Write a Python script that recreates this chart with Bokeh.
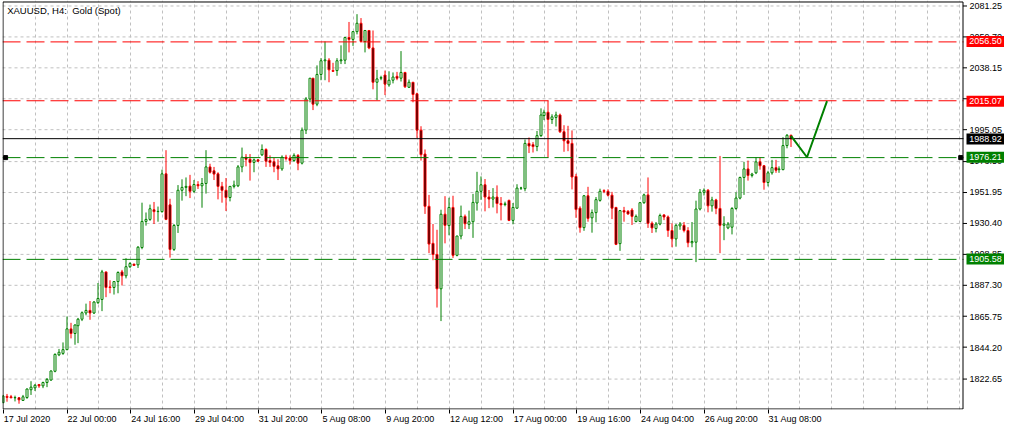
import math
from bokeh.plotting import figure
from bokeh.models import (Range1d, FixedTicker, Label, ColumnDataSource, LinearAxis)
from bokeh.core.properties import value
from bokeh.embed import file_html
from bokeh.resources import INLINE

# ---- data (XAUUSD H4) ----
opens = [1806.0, 1810.4, 1810.1, 1809.4, 1809.4, 1807.6, 1809.6, 1815.0, 1816.3, 1818.6,
         1817.7, 1820.0, 1821.7, 1827.8, 1839.2, 1840.2, 1842.8, 1857.2, 1854.0, 1859.4,
         1863.9, 1868.2, 1870.0, 1868.2, 1875.4, 1877.6, 1896.7, 1886.3, 1885.9, 1890.0,
         1896.7, 1894.0, 1900.3, 1902.1, 1901.6, 1913.6, 1931.7, 1933.1, 1939.8, 1938.5,
         1938.5, 1964.7, 1943.2, 1912.3, 1928.9, 1953.3, 1955.3, 1956.2, 1952.6, 1957.3,
         1956.4, 1958.0, 1969.5, 1966.8, 1964.7, 1956.0, 1953.3, 1948.3, 1956.0, 1956.4,
         1969.5, 1976.2, 1974.8, 1972.6, 1974.4, 1977.9, 1981.6, 1973.9, 1973.0, 1970.3,
         1968.1, 1976.2, 1975.7, 1973.9, 1977.5, 1972.1, 1995.0, 2016.6, 2031.0, 2013.0,
         2033.6, 2043.1, 2043.5, 2036.3, 2036.3, 2043.1, 2043.5, 2059.2, 2057.9, 2063.3,
         2069.1, 2056.5, 2064.1, 2052.0, 2028.2, 2031.0, 2033.2, 2026.4, 2029.6, 2032.3,
         2031.0, 2035.0, 2024.7, 2028.2, 2020.2, 1995.0, 1978.4, 1942.2, 1916.5, 1908.8,
         1885.0, 1936.7, 1928.8, 1941.4, 1908.2, 1921.6, 1935.2, 1929.7, 1931.5, 1944.5,
         1952.6, 1957.1, 1948.6, 1947.2, 1948.6, 1944.1, 1943.4, 1946.3, 1932.4, 1940.9,
         1954.8, 1954.4, 1985.8, 1984.9, 1983.6, 1991.2, 2005.1, 2007.4, 2002.4, 2003.8,
         2005.5, 1993.9, 1987.6, 1985.8, 1962.9, 1940.9, 1927.4, 1949.5, 1934.2, 1937.8,
         1946.3, 1953.0, 1952.6, 1949.9, 1941.4, 1916.3, 1939.2, 1938.7, 1939.6, 1931.6,
         1931.7, 1944.7, 1950.1, 1930.4, 1926.8, 1929.9, 1936.2, 1934.8, 1925.4, 1919.6,
         1928.6, 1929.0, 1925.4, 1916.9, 1917.3, 1940.3, 1951.9, 1953.3, 1942.5, 1946.6,
         1940.7, 1929.0, 1927.2, 1927.7, 1940.7, 1947.9, 1962.2, 1968.1, 1963.6, 1965.4,
         1973.0, 1970.3, 1958.7, 1965.4, 1969.0, 1967.6, 1967.6, 1984.3, 1991.4]
highs = [1811.4, 1812.1, 1811.4, 1810.9, 1809.9, 1811.4, 1815.9, 1820.9, 1819.0, 1819.0,
         1820.6, 1823.1, 1828.4, 1840.2, 1843.3, 1847.8, 1865.8, 1861.4, 1860.3, 1864.8,
         1869.3, 1874.7, 1876.5, 1876.5, 1889.0, 1898.1, 1896.7, 1890.9, 1890.0, 1897.1,
         1898.1, 1906.2, 1903.5, 1902.3, 1914.6, 1944.7, 1937.9, 1943.4, 1945.2, 1942.0,
         1967.6, 1981.1, 1947.4, 1929.9, 1956.9, 1960.9, 1962.2, 1964.0, 1960.4, 1959.6,
         1961.8, 1981.1, 1971.7, 1969.5, 1965.8, 1959.1, 1961.8, 1956.0, 1960.0, 1970.8,
         1982.9, 1978.4, 1978.4, 1975.3, 1974.8, 1985.1, 1982.4, 1977.5, 1975.7, 1974.8,
         1977.5, 1977.9, 1977.5, 1978.9, 1978.4, 1996.8, 2017.9, 2031.0, 2031.0, 2039.9,
         2044.9, 2056.5, 2044.9, 2041.7, 2044.9, 2053.8, 2059.7, 2070.0, 2063.7, 2075.4,
         2072.7, 2064.1, 2064.1, 2064.1, 2036.8, 2032.7, 2036.3, 2035.8, 2035.0, 2035.4,
         2049.8, 2035.4, 2030.1, 2028.2, 2021.0, 1997.7, 1981.6, 1950.1, 1929.9, 1925.9,
         1939.8, 1949.2, 1948.1, 1949.5, 1921.6, 1942.7, 1936.5, 1939.2, 1950.8, 1966.1,
         1962.9, 1961.1, 1953.5, 1954.8, 1956.7, 1948.6, 1945.4, 1946.8, 1944.5, 1957.5,
         1955.7, 1988.5, 1989.9, 1986.7, 1994.4, 2010.1, 2009.2, 2015.5, 2006.0, 2007.8,
         2006.5, 1998.4, 1998.0, 1994.8, 1964.7, 1942.2, 1950.0, 1955.7, 1940.0, 1948.6,
         1954.4, 1954.0, 1954.0, 1952.2, 1941.8, 1939.6, 1941.8, 1939.6, 1940.9, 1936.5,
         1945.2, 1951.0, 1962.2, 1931.7, 1931.3, 1937.1, 1936.7, 1935.8, 1930.4, 1929.9,
         1931.3, 1931.3, 1927.7, 1931.3, 1946.1, 1954.2, 1954.6, 1954.2, 1948.8, 1947.4,
         1977.1, 1935.3, 1931.3, 1941.6, 1951.9, 1962.7, 1973.0, 1973.9, 1965.4, 1976.2,
         1976.2, 1970.8, 1966.8, 1974.4, 1974.4, 1969.9, 1990.1, 1992.3, 1991.9]
lows = [1806.0, 1806.7, 1809.2, 1806.9, 1805.3, 1807.2, 1808.7, 1811.4, 1814.1, 1816.3,
        1816.1, 1816.8, 1821.3, 1827.1, 1838.3, 1839.2, 1842.4, 1850.6, 1846.2, 1847.3,
        1862.6, 1866.6, 1863.5, 1867.5, 1874.5, 1869.5, 1879.2, 1881.9, 1881.0, 1881.9,
        1887.3, 1892.2, 1899.4, 1901.0, 1899.4, 1912.4, 1928.8, 1932.1, 1929.9, 1931.5,
        1937.8, 1932.6, 1906.6, 1911.2, 1923.7, 1946.1, 1949.2, 1947.9, 1951.5, 1954.2,
        1941.2, 1951.0, 1964.9, 1960.4, 1947.0, 1944.7, 1938.9, 1945.6, 1954.6, 1955.5,
        1965.8, 1969.9, 1960.0, 1965.8, 1973.0, 1977.1, 1969.5, 1969.5, 1965.8, 1960.4,
        1966.8, 1973.9, 1971.1, 1973.0, 1967.2, 1971.2, 1992.3, 2014.3, 2008.9, 2011.6,
        2029.6, 2029.6, 2028.2, 2035.4, 2032.7, 2040.8, 2040.8, 2048.9, 2053.4, 2061.4,
        2055.6, 2048.9, 2051.1, 2023.3, 2015.7, 2029.6, 2019.3, 2025.1, 2027.4, 2029.6,
        2028.7, 2024.2, 2024.2, 2014.3, 1989.6, 1973.9, 1936.9, 1909.7, 1904.8, 1872.0,
        1862.6, 1916.5, 1922.1, 1906.4, 1907.5, 1919.3, 1926.4, 1926.4, 1920.3, 1939.2,
        1946.7, 1938.7, 1940.9, 1941.4, 1937.3, 1932.4, 1942.2, 1931.9, 1929.7, 1940.5,
        1953.5, 1952.6, 1979.1, 1979.5, 1980.4, 1990.3, 2002.0, 1975.9, 1999.3, 1997.5,
        1993.0, 1980.0, 1980.4, 1953.9, 1934.2, 1923.9, 1925.2, 1931.5, 1923.9, 1931.1,
        1945.4, 1951.3, 1949.0, 1933.3, 1915.3, 1911.3, 1931.5, 1936.3, 1929.2, 1931.1,
        1931.3, 1943.9, 1927.2, 1923.7, 1924.1, 1929.0, 1932.6, 1921.0, 1913.8, 1914.2,
        1925.9, 1924.1, 1913.8, 1913.8, 1903.5, 1939.3, 1949.7, 1938.0, 1938.5, 1936.7,
        1909.7, 1918.7, 1926.3, 1922.7, 1939.8, 1947.0, 1950.1, 1960.0, 1962.2, 1964.5,
        1967.6, 1953.7, 1956.0, 1964.1, 1965.4, 1965.4, 1967.2, 1982.4, 1983.3]
closes = [1810.7, 1809.7, 1809.4, 1809.6, 1808.0, 1810.1, 1815.5, 1816.8, 1818.1, 1817.7,
          1820.0, 1822.2, 1828.0, 1839.5, 1841.0, 1842.8, 1857.2, 1854.0, 1859.9, 1863.9,
          1868.4, 1870.0, 1868.2, 1875.8, 1878.3, 1896.7, 1885.9, 1885.9, 1890.0, 1896.3,
          1894.0, 1900.3, 1902.5, 1901.2, 1913.8, 1931.7, 1933.1, 1940.5, 1938.5, 1938.7,
          1964.7, 1933.1, 1912.3, 1928.9, 1953.3, 1955.3, 1956.0, 1952.6, 1957.3, 1956.4,
          1958.0, 1969.5, 1965.8, 1964.5, 1956.0, 1953.3, 1948.3, 1956.0, 1956.9, 1969.5,
          1976.2, 1974.8, 1972.6, 1974.4, 1973.5, 1981.6, 1973.5, 1972.6, 1969.9, 1968.1,
          1976.2, 1975.3, 1973.9, 1977.5, 1972.1, 1995.0, 2016.6, 2031.0, 2013.0, 2033.6,
          2043.1, 2043.7, 2036.8, 2035.8, 2043.1, 2043.7, 2059.2, 2057.9, 2063.3, 2069.1,
          2056.5, 2064.1, 2052.0, 2028.2, 2030.5, 2031.4, 2026.9, 2029.6, 2031.8, 2031.0,
          2035.0, 2025.1, 2028.2, 2019.7, 1995.0, 1978.0, 1942.2, 1916.0, 1908.8, 1885.0,
          1936.7, 1929.0, 1941.4, 1908.2, 1921.6, 1935.2, 1930.1, 1931.5, 1944.9, 1952.6,
          1957.1, 1948.6, 1947.2, 1948.6, 1944.1, 1943.2, 1943.9, 1932.4, 1941.4, 1954.8,
          1954.9, 1985.8, 1984.0, 1983.6, 1991.2, 2005.5, 2007.4, 2002.4, 2004.2, 2005.5,
          1993.9, 1987.6, 1985.8, 1962.5, 1940.0, 1927.4, 1949.5, 1933.8, 1937.8, 1946.8,
          1952.6, 1952.6, 1949.9, 1940.9, 1915.8, 1939.2, 1938.2, 1936.9, 1935.2, 1935.2,
          1944.7, 1950.1, 1930.4, 1927.2, 1929.9, 1935.8, 1934.8, 1925.4, 1919.6, 1929.0,
          1929.9, 1925.4, 1916.9, 1917.8, 1940.3, 1951.9, 1953.3, 1942.5, 1946.6, 1940.7,
          1929.0, 1929.9, 1929.9, 1940.7, 1947.9, 1962.2, 1968.1, 1963.6, 1964.5, 1973.0,
          1970.3, 1958.7, 1965.4, 1969.0, 1967.2, 1968.1, 1984.3, 1991.4, 1988.92]

x_tick_bars = [0, 16, 32, 48, 64, 80, 96, 112, 128, 144, 160, 176, 192]
x_tick_labels = ["17 Jul 2020", "22 Jul 00:00", "24 Jul 16:00", "29 Jul 04:00",
                 "31 Jul 20:00", "5 Aug 08:00", "9 Aug 20:00", "12 Aug 12:00",
                 "17 Aug 00:00", "19 Aug 16:00", "24 Aug 04:00", "26 Aug 20:00",
                 "31 Aug 08:00"]
y_tick_labels = ["1822.65", "1844.20", "1865.75", "1887.30", "1908.85", "1930.40",
                 "1951.95", "1973.50", "1995.05", "2016.60", "2038.15", "2059.70",
                 "2081.25"]

level_values = [2056.50, 2015.07, 1976.21, 1905.58]
level_kinds = ["resistance", "resistance", "support", "support"]
bid_price = 1988.92

proj_bars = [198, 202, 207]
proj_prices = [1991.0, 1976.21, 2015.07]

title_text = "XAUUSD, H4:\u00a0 Gold (Spot)"

# ---- styling / layout ----
GREEN = "#008000"
RED = "#ff0000"
GRID = "#c0c0c0"
FONT = "Liberation Sans"
FS = 9  # px
kind_color = {"resistance": RED, "support": GREEN}

# chart window (bars X0..X1, prices Y0..Y1); the frame also holds the price scale
X0, X1 = -0.08, 241.2
Y0, Y1 = 1801.3, 2083.5
W, H = 1004, 426
BL, BB = 2, 16
TOP_PAD = 2                 # px above the chart box inside the frame
SCALE_W = 41                # price-scale strip width (px)
FRAME_W, FRAME_H = W - BL, H - BB
CHART_W, CHART_H = FRAME_W - SCALE_W, FRAME_H - TOP_PAD
PPB = CHART_W / (X1 - X0)   # pixels per bar
PPU = CHART_H / (Y1 - Y0)   # pixels per price unit
XE = X0 + FRAME_W / PPB
YE = Y1 + TOP_PAD / PPU

def crisp_x(b):
    """bar position nudged onto a pixel centre so 1px lines stay sharp"""
    sx = (b - X0) * PPB
    return X0 + (math.floor(sx) + 0.5) / PPB

def crisp_y(v):
    sy = (YE - v) * PPU
    return YE - (math.floor(sy) + 0.5) / PPU

p = figure(width=W, height=H,
           x_range=Range1d(X0, XE), y_range=Range1d(Y0, YE),
           y_axis_location=None, output_backend="svg", toolbar_location=None,
           min_border_left=BL, min_border_top=0, min_border_right=0, min_border_bottom=BB,
           background_fill_color="white", border_fill_color="white")
p.outline_line_color = None

# bottom axis: tick marks only
p.xaxis.ticker = FixedTicker(ticks=[crisp_x(b) for b in x_tick_bars])
p.xaxis.major_label_overrides = {crisp_x(b): "" for b in x_tick_bars}
p.xaxis.major_label_text_font_size = "0px"
p.xaxis.major_label_standoff = 0
p.xaxis.major_tick_in = 0
p.xaxis.major_tick_out = 4
p.xaxis.minor_tick_in = 0
p.xaxis.minor_tick_out = 0
p.xaxis.axis_line_color = None
p.xaxis.major_tick_line_color = "black"

# second bottom axis carries the date labels, each starting at its tick
CHAR_W = {" ": 0.278, ":": 0.278, "J": 0.5, "A": 0.667, "u": 0.556, "l": 0.222,
          "g": 0.556}
def text_px(s):
    return sum(CHAR_W.get(c, 0.556) for c in s) * FS

label_pos = [round(b + (text_px(s) / 2 + 1) / PPB, 3) for b, s in zip(x_tick_bars, x_tick_labels)]
date_axis = LinearAxis(ticker=FixedTicker(ticks=label_pos),
                       major_label_overrides={pos: s for pos, s in zip(label_pos, x_tick_labels)},
                       axis_line_color=None, major_tick_line_color=None,
                       minor_tick_line_color=None, major_tick_in=0, major_tick_out=0,
                       minor_tick_in=0, minor_tick_out=0, major_label_standoff=0,
                       major_label_text_font=FONT, major_label_text_font_size=f"{FS}px",
                       major_label_text_color="black")
p.add_layout(date_axis, "below")

# grid: vertical from the x grid, horizontal drawn up to the chart edge only
p.xgrid.ticker = FixedTicker(ticks=[crisp_x(b) for b in range(8, 241, 8)])
p.xgrid.grid_line_color = GRID
p.xgrid.grid_line_dash = "3 3"
p.ygrid.visible = False
y_ticks = [float(s) for s in y_tick_labels]
y_ticks_c = [crisp_y(v) for v in y_ticks]
p.segment(x0=[X0] * len(y_ticks), y0=y_ticks_c, x1=[X1] * len(y_ticks), y1=y_ticks_c,
          line_color=GRID, line_dash="3 3", line_width=1)

# candles
def build(sel):
    idx = [i for i in range(len(opens)) if sel(i)]
    return ColumnDataSource(dict(
        x=[crisp_x(i) for i in idx],
        low=[lows[i] for i in idx],
        high=[highs[i] for i in idx],
        top=[max(opens[i], closes[i]) for i in idx],
        bottom=[min(opens[i], closes[i]) for i in idx],
    ))

up = build(lambda i: closes[i] >= opens[i])
dn = build(lambda i: closes[i] < opens[i])
BODY_W = 2 / PPB

p.segment(x0="x", y0="low", x1="x", y1="high", source=up, line_color=GREEN, line_width=1)
p.segment(x0="x", y0="low", x1="x", y1="high", source=dn, line_color=RED, line_width=1)
p.vbar(x="x", width=BODY_W, top="top", bottom="bottom", source=up,
       fill_color="white", line_color=GREEN, line_width=1)
p.vbar(x="x", width=BODY_W, top="top", bottom="bottom", source=dn,
       fill_color="black", line_color=RED, line_width=1)

# horizontal levels and bid line (end at the chart edge)
for v, k in zip(level_values, level_kinds):
    vc = crisp_y(v)
    p.line(x=[X0, X1], y=[vc, vc], line_color=kind_color[k], line_width=1, line_dash="18 6")
bc = crisp_y(bid_price)
p.line(x=[X0, X1], y=[bc, bc], line_color="black", line_width=1)

# alert markers on the support level
p.scatter(x=[X0 + 0.78, X1 - 0.7], y=[crisp_y(level_values[2])] * 2,
          marker="square", size=4, color="black")

# projection path
p.line([crisp_x(b) for b in proj_bars], proj_prices, line_color=GREEN, line_width=2)

# chart border
xl, xr = crisp_x(X0), crisp_x(X1 - 0.5 / PPB)
yt, yb = crisp_y(Y1), crisp_y(Y0 + 0.5 / PPU)
p.segment(x0=[xl, xl, xl, xr], y0=[yb, yt, yb, yb], x1=[xr, xr, xl, xr], y1=[yb, yt, yt, yt],
          line_color="black", line_width=1)

# price scale on the right: ticks and labels at the tick values
p.segment(x0=[xr] * len(y_ticks), y0=y_ticks_c, x1=[xr + 4 / PPB] * len(y_ticks), y1=y_ticks_c,
          line_color="black", line_width=1)
p.text(x=[X1 + 6 / PPB] * len(y_ticks), y=y_ticks, text=y_tick_labels,
       text_font=value(FONT), text_font_size=value(f"{FS}px"), text_color="black",
       text_baseline="middle", text_align="left")

# price boxes
box_vals = level_values + [bid_price]
box_cols = [kind_color[k] for k in level_kinds] + ["black"]
p.quad(left=[X1 + 3 / PPB] * len(box_vals), right=[X1 + 41 / PPB] * len(box_vals),
       bottom=[v - 5.5 / PPU for v in box_vals], top=[v + 5.5 / PPU for v in box_vals],
       fill_color=box_cols, line_color=None)
p.text(x=[X1 + 5.7 / PPB] * len(box_vals), y=box_vals, text=[f"{v:.2f}" for v in box_vals],
       text_font=value(FONT), text_font_size=value(f"{FS}px"), text_color="white",
       text_baseline="middle", text_align="left")

# title
p.add_layout(Label(x=X0 + 4.7 / PPB, y=Y1 - 5.6, text=title_text, text_color="black",
                   text_font=FONT, text_font_size="9.5px", text_baseline="middle",
                   text_align="left"))

open("out.html", "w").write(file_html(p, INLINE))
